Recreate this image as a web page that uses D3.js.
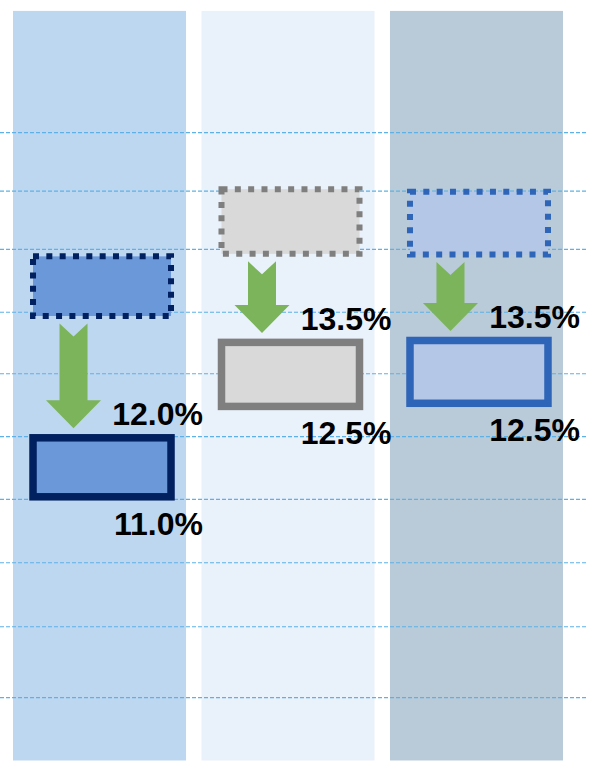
<!DOCTYPE html>
<html>
<head>
<meta charset="utf-8">
<script src="https://cdn.jsdelivr.net/npm/d3@7/dist/d3.min.js"></script>
<style>
  body { margin: 0; background: #fff; }
  svg { display: block; }
</style>
</head>
<body>
<div id="chart"></div>
<script>
// categories (three panels, unnamed in the picture)
var cases = ["A", "B", "C"];

// values written next to the boxes
var beforeValues = [12.0, 13.5, 13.5];
var afterValues = [11.0, 12.5, 12.5];

// box spans on the grid scale
var beforeTop = [1.97, 0.90, 0.94];
var beforeBottom = [2.92, 1.93, 1.94];
var afterTop = [4.86, 3.34, 3.31];
var afterBottom = [5.80, 4.36, 4.31];

// dashed grid levels and the panel extent on the same scale
var gridLevels = [0, 0.93, 1.86, 2.86, 3.84, 4.84, 5.84, 6.85, 7.87, 9];
var panelSpan = [-1.94, 10];

// styles
var panelColors = ["#bdd7f0", "#e9f1fa", "#b9cad8"];
var boxFills = ["#6a98d9", "#d9d9d9", "#b4c7e7"];
var boxStrokes = ["#002060", "#7f7f7f", "#2e65b8"];
var arrowColor = "#7cb45b";

var width = 590, height = 763;

var svg = d3.select("#chart")
  .append("svg")
  .attr("width", width)
  .attr("height", height);

var x = d3.scaleBand()
  .domain(cases)
  .range([13, 563])
  .paddingInner(0.082);

var y = d3.scaleLinear()
  .domain([0, 9])
  .range([132.7, 697.7]);

var boxW = 138;
function boxCenter(i) { return x(cases[i]) + x.bandwidth() / 2 + 2.5; }

// panels
svg.selectAll("rect.panel")
  .data(cases)
  .enter()
  .append("rect")
  .attr("class", "panel")
  .attr("x", function (d) { return x(d); })
  .attr("y", y(panelSpan[0]))
  .attr("width", x.bandwidth())
  .attr("height", y(panelSpan[1]) - y(panelSpan[0]))
  .attr("fill", function (d, i) { return panelColors[i]; });

// grid
svg.selectAll("line.grid")
  .data(gridLevels)
  .enter()
  .append("line")
  .attr("class", "grid")
  .attr("x1", 0)
  .attr("x2", 586)
  .attr("y1", function (d) { return y(d); })
  .attr("y2", function (d) { return y(d); })
  .attr("stroke", "#5db1e6")
  .attr("stroke-width", 1.2)
  .attr("stroke-dasharray", "4,2");

// before boxes (dotted)
svg.selectAll("rect.before")
  .data(beforeValues)
  .enter()
  .append("rect")
  .attr("class", "before")
  .attr("x", function (d, i) { return boxCenter(i) - boxW / 2; })
  .attr("y", function (d, i) { return y(beforeTop[i]); })
  .attr("width", boxW)
  .attr("height", function (d, i) { return y(beforeBottom[i]) - y(beforeTop[i]); })
  .attr("fill", function (d, i) { return boxFills[i]; })
  .attr("stroke", function (d, i) { return boxStrokes[i]; })
  .attr("stroke-width", 6)
  .attr("stroke-dasharray", "6,7.33");

// after boxes (solid)
svg.selectAll("rect.after")
  .data(afterValues)
  .enter()
  .append("rect")
  .attr("class", "after")
  .attr("x", function (d, i) { return boxCenter(i) - boxW / 2; })
  .attr("y", function (d, i) { return y(afterTop[i]); })
  .attr("width", boxW)
  .attr("height", function (d, i) { return y(afterBottom[i]) - y(afterTop[i]); })
  .attr("fill", function (d, i) { return boxFills[i]; })
  .attr("stroke", function (d, i) { return boxStrokes[i]; })
  .attr("stroke-width", 7.5);

// arrows from before to after
function arrowPath(cx, top, tip) {
  var shaft = 14, head = 27.5, headLen = 28, notch = 13;
  var p = d3.path();
  p.moveTo(cx - shaft, top);
  p.lineTo(cx, top + notch);
  p.lineTo(cx + shaft, top);
  p.lineTo(cx + shaft, tip - headLen);
  p.lineTo(cx + head, tip - headLen);
  p.lineTo(cx, tip);
  p.lineTo(cx - head, tip - headLen);
  p.lineTo(cx - shaft, tip - headLen);
  p.closePath();
  return p.toString();
}

svg.selectAll("path.arrow")
  .data(cases)
  .enter()
  .append("path")
  .attr("class", "arrow")
  .attr("d", function (d, i) {
    return arrowPath(boxCenter(i) - 28.5, y(beforeBottom[i]) + 7.5, y(afterTop[i]) - 9.5);
  })
  .attr("fill", arrowColor);

// labels
function fmt(v) { return v.toFixed(1) + "%"; }

svg.selectAll("text.before")
  .data(beforeValues)
  .enter()
  .append("text")
  .attr("class", "before")
  .attr("x", function (d, i) { return boxCenter(i) + 101; })
  .attr("y", function (d, i) { return y(afterTop[i]) - 12.5; })
  .attr("text-anchor", "end")
  .style("font-family", "'Liberation Sans', Arial, sans-serif")
  .style("font-weight", "bold")
  .style("font-size", "32px")
  .attr("fill", "#000")
  .text(fmt);

svg.selectAll("text.after")
  .data(afterValues)
  .enter()
  .append("text")
  .attr("class", "after")
  .attr("x", function (d, i) { return boxCenter(i) + 101; })
  .attr("y", function (d, i) { return y(afterBottom[i]) + 37.7; })
  .attr("text-anchor", "end")
  .style("font-family", "'Liberation Sans', Arial, sans-serif")
  .style("font-weight", "bold")
  .style("font-size", "32px")
  .attr("fill", "#000")
  .text(fmt);
</script>
</body>
</html>
